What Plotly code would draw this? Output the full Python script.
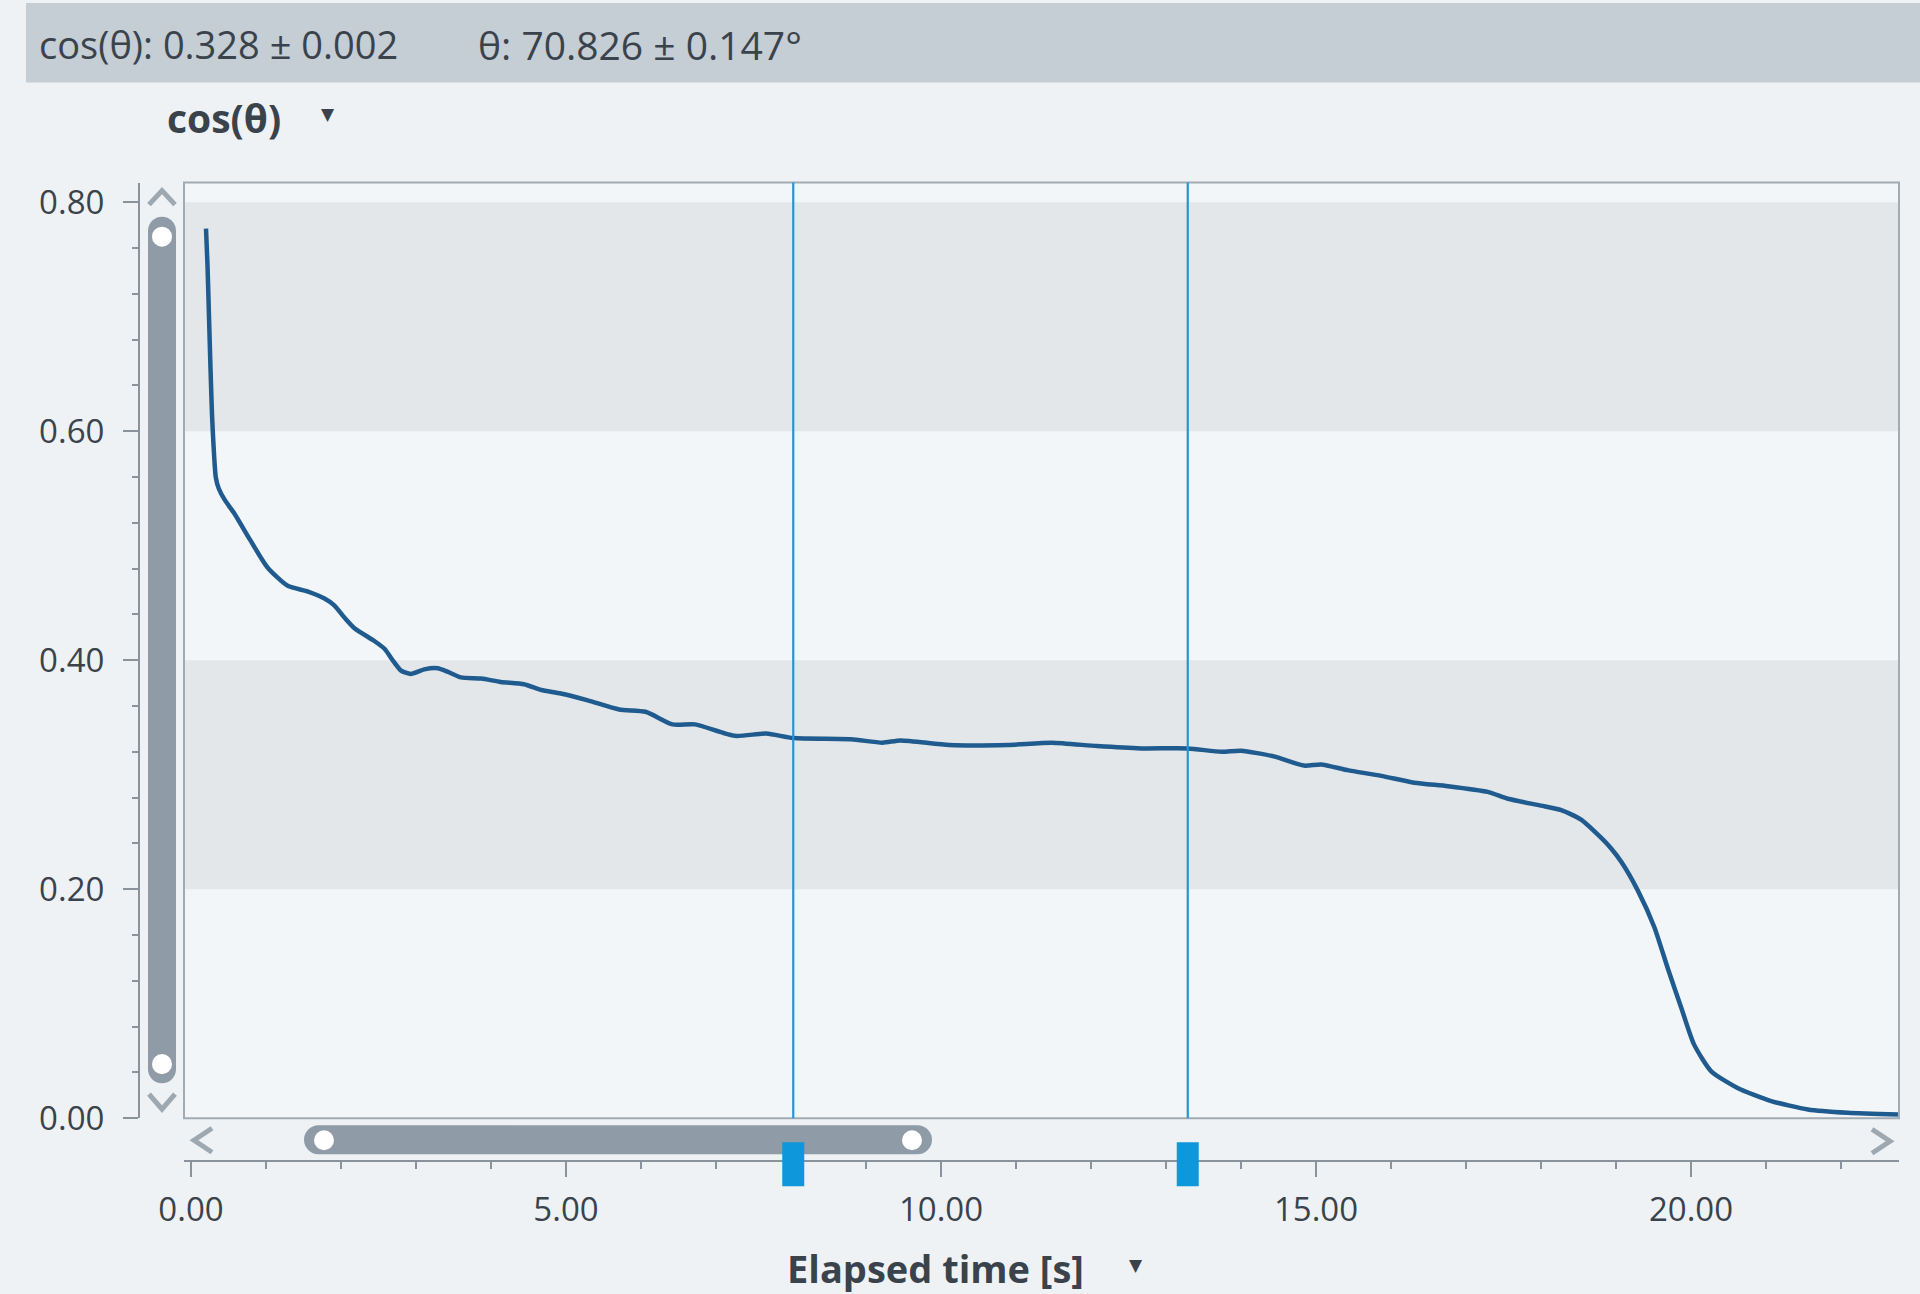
import plotly.graph_objects as go

# ---------------- data ----------------
time_s = [0.20, 0.22, 0.24, 0.26, 0.28, 0.30, 0.33, 0.37, 0.45, 0.58, 0.78, 1.02, 1.29,
          1.56, 1.78, 1.91, 2.05, 2.18, 2.44, 2.58, 2.70, 2.80, 2.93, 3.11, 3.29, 3.42,
          3.60, 3.87, 4.13, 4.44, 4.67, 4.93, 5.29, 5.71, 6.06, 6.42, 6.72, 7.25, 7.67,
          8.03, 8.80, 9.22, 9.46, 10.11, 10.89, 11.48, 12.08, 12.67, 13.29, 13.74, 14.00,
          14.44, 14.84, 15.07, 15.42, 15.87, 16.31, 16.76, 17.29, 17.56, 18.00, 18.27,
          18.53, 18.80, 18.93, 19.07, 19.29, 19.51, 19.69, 19.87, 20.04, 20.27, 20.62,
          21.07, 21.56, 22.09, 22.76]
cos_theta = [0.777, 0.745, 0.700, 0.655, 0.615, 0.588, 0.560, 0.550, 0.540, 0.528, 0.506,
             0.481, 0.465, 0.460, 0.454, 0.448, 0.437, 0.428, 0.417, 0.410, 0.399, 0.391,
             0.388, 0.392, 0.393, 0.390, 0.385, 0.384, 0.381, 0.379, 0.374, 0.371, 0.365,
             0.357, 0.355, 0.344, 0.344, 0.334, 0.336, 0.332, 0.331, 0.328, 0.330, 0.326,
             0.326, 0.328, 0.325, 0.323, 0.323, 0.320, 0.321, 0.316, 0.308, 0.309, 0.304,
             0.299, 0.293, 0.290, 0.285, 0.279, 0.273, 0.269, 0.261, 0.245, 0.236, 0.224,
             0.199, 0.167, 0.131, 0.0965, 0.0645, 0.041, 0.0265, 0.015, 0.0076, 0.0047,
             0.0032]
cursor_times = [8.03, 13.29]
bands = [(0.2, 0.4), (0.6, 0.8)]
header_left = "cos(θ): 0.328 ± 0.002"
header_right = "θ: 70.826 ± 0.147°"
y_title = "cos(θ)"
x_title = "Elapsed time [s]"

# ---------------- geometry helpers (target pixel -> paper) ----------------
W, H = 1920, 1294
# measured placement of the rendered paper inside the photograph
OFF_X, SPAN_X = 25.0, 1894.0
OFF_Y, SPAN_Y = 3.7, 1266.8
def px(X):
    return (X - OFF_X) / SPAN_X
def py(Y):
    return 1 - (Y - OFF_Y) / SPAN_Y

PLOT_L, PLOT_R, PLOT_T, PLOT_B = 183, 1898, 183, 1117
X0_PX, PX_PER_S = 190, 75.0
PX_PER_UNIT_Y = 1143.0

TEXT = "#3a434c"
AXIS = "#8a939b"
SCROLL = "#8f9ba6"
CHEV = "#9ea8b1"
CURSOR = "#1e98d8"
MARK = "#0e97da"
HEADER = "#c5cdd5"
PAGE = "#eef2f5"
FONT = "Open Sans, Noto Sans, sans-serif"

def rounded_rect(x0, y0, x1, y1, r):
    k = 0.5523 * r
    pts = [
        ("M", [(x0 + r, y0)]),
        ("L", [(x1 - r, y0)]),
        ("C", [(x1 - r + k, y0), (x1, y0 + r - k), (x1, y0 + r)]),
        ("L", [(x1, y1 - r)]),
        ("C", [(x1, y1 - r + k), (x1 - r + k, y1), (x1 - r, y1)]),
        ("L", [(x0 + r, y1)]),
        ("C", [(x0 + r - k, y1), (x0, y1 - r + k), (x0, y1 - r)]),
        ("L", [(x0, y0 + r)]),
        ("C", [(x0, y0 + r - k), (x0 + r - k, y0), (x0 + r, y0)]),
    ]
    s = ""
    for cmd, ps in pts:
        s += cmd + " " + " ".join(f"{px(a):.6f},{py(b):.6f}" for a, b in ps) + " "
    return s + "Z"

def polyline(points):
    s = "M " + f"{px(points[0][0]):.6f},{py(points[0][1]):.6f}"
    for a, b in points[1:]:
        s += f" L {px(a):.6f},{py(b):.6f}"
    return s

fig = go.Figure()
fig.add_trace(go.Scatter(
    x=time_s, y=cos_theta, mode="lines",
    line=dict(color="#1f5b8e", width=4.5, shape="spline", smoothing=0.6),
    hoverinfo="skip", showlegend=False,
))

x_range = [(PLOT_L - X0_PX) / PX_PER_S, (PLOT_R - X0_PX) / PX_PER_S]
y_range = [0, (PLOT_B - PLOT_T) / PX_PER_UNIT_Y]

shapes = []
shapes.append(dict(type="rect", xref="paper", yref="paper", x0=0, x1=1, y0=py(83), y1=1,
                   fillcolor=HEADER, line=dict(width=0), layer="below"))
for lo, hi in bands:
    shapes.append(dict(type="rect", xref="x domain", yref="y", x0=0, x1=1, y0=lo, y1=hi,
                       fillcolor="#e3e7ea", line=dict(width=0), layer="below"))
shapes.append(dict(type="rect", xref="paper", yref="paper", x0=px(PLOT_L), x1=px(PLOT_R),
                   y0=py(PLOT_B), y1=py(PLOT_T), line=dict(color="#a3abb2", width=2),
                   fillcolor="rgba(0,0,0,0)", layer="above"))
for t in cursor_times:
    shapes.append(dict(type="line", xref="x", yref="y domain", x0=t, x1=t, y0=0, y1=1,
                       line=dict(color=CURSOR, width=2.2), layer="above"))
    shapes.append(dict(type="rect", xref="x", xsizemode="pixel", xanchor=t, x0=-11, x1=11,
                       yref="paper", y0=py(1185), y1=py(1141), fillcolor=MARK,
                       line=dict(width=0), layer="above"))
shapes.append(dict(type="path", xref="paper", yref="paper",
                   path=rounded_rect(147, 217, 175, 1082, 14), fillcolor=SCROLL,
                   line=dict(width=0), layer="above"))
for cy in (237, 1063):
    shapes.append(dict(type="circle", xref="paper", yref="paper", x0=px(151), x1=px(171),
                       y0=py(cy + 10), y1=py(cy - 10), fillcolor="white",
                       line=dict(width=0), layer="above"))
shapes.append(dict(type="path", xref="paper", yref="paper",
                   path=rounded_rect(303, 1124, 931, 1153, 14.5), fillcolor=SCROLL,
                   line=dict(width=0), layer="below"))
for cx in (323, 911):
    shapes.append(dict(type="circle", xref="paper", yref="paper", x0=px(cx - 10), x1=px(cx + 10),
                       y0=py(1149), y1=py(1129), fillcolor="white",
                       line=dict(width=0), layer="below"))
for pts in ([(148, 205), (161, 191), (174, 205)],
            [(148, 1093), (161, 1108), (174, 1093)],
            [(211, 1127), (193, 1139), (211, 1151)],
            [(1871, 1128), (1889, 1140), (1871, 1152)]):
    shapes.append(dict(type="path", xref="paper", yref="paper", path=polyline(pts),
                       line=dict(color=CHEV, width=5), layer="above"))

annotations = [
    dict(text=header_left, x=px(36), y=py(45), xanchor="left", yanchor="middle",
         font=dict(size=38, color=TEXT, family=FONT)),
    dict(text=header_right, x=px(475), y=py(45), xanchor="left", yanchor="middle",
         font=dict(size=39, color=TEXT, family=FONT)),
    dict(text="<b>" + y_title + "</b>", x=px(164), y=py(118), xanchor="left", yanchor="middle",
         font=dict(size=39, color=TEXT, family=FONT)),
    dict(text="▼", x=px(327), y=py(115), xanchor="center", yanchor="middle",
         font=dict(size=17, color=TEXT, family="DejaVu Sans")),
    dict(text="<b>" + x_title + "</b>", x=px(784), y=py(1267), xanchor="left", yanchor="middle",
         font=dict(size=38, color=TEXT, family=FONT)),
    dict(text="▼", x=px(1135), y=py(1264), xanchor="center", yanchor="middle",
         font=dict(size=17, color=TEXT, family="DejaVu Sans")),
]
for a in annotations:
    a.update(xref="paper", yref="paper", showarrow=False)

fig.update_layout(
    width=W, height=H,
    margin=dict(l=0, r=0, t=0, b=0, pad=0),
    paper_bgcolor=PAGE,
    plot_bgcolor="#f3f6f8",
    showlegend=False,
    shapes=shapes,
    annotations=annotations,
    xaxis=dict(
        domain=[px(PLOT_L), px(PLOT_R)], range=x_range, anchor="free", position=py(1160),
        showgrid=False, zeroline=False, showline=True, linecolor=AXIS, linewidth=2,
        ticks="outside", ticklen=15, tickwidth=1.5, tickcolor=AXIS, dtick=5, tick0=0,
        tickformat=".2f", tickfont=dict(size=33, color=TEXT, family=FONT),
        ticklabelstandoff=4,
        minor=dict(dtick=1, tick0=0, ticks="outside", ticklen=7, tickwidth=1.5,
                   tickcolor=AXIS, showgrid=False),
        fixedrange=True,
    ),
    yaxis=dict(
        domain=[py(PLOT_B), py(PLOT_T)], range=y_range, anchor="free", position=px(138),
        showgrid=False, zeroline=False, showline=True, linecolor=AXIS, linewidth=2,
        ticks="outside", ticklen=15, tickwidth=1.5, tickcolor=AXIS, dtick=0.2, tick0=0,
        tickformat=".2f", tickfont=dict(size=33, color=TEXT, family=FONT),
        ticklabelstandoff=12,
        minor=dict(dtick=0.04, tick0=0, ticks="outside", ticklen=6, tickwidth=1.5,
                   tickcolor=AXIS, showgrid=False),
        fixedrange=True,
    ),
)

post = (
    "document.documentElement.style.margin='0';"
    "document.documentElement.style.padding='0';"
    "document.documentElement.style.overflow='hidden';"
    "document.body.style.margin='0';document.body.style.padding='0';"
    "document.body.style.overflow='hidden';"
    "document.body.style.background='linear-gradient(to bottom, " + HEADER + " 0px, "
    + HEADER + " 85px, " + PAGE + " 85px, " + PAGE + " 100%)';"
    "document.documentElement.style.background='" + PAGE + "';"
    "var gd=document.getElementById('{plot_id}');"
    "gd.style.position='absolute';gd.style.left='0px';gd.style.top='0px';"
)

fig.write_html("out.html", config={"displayModeBar": False}, post_script=post)
